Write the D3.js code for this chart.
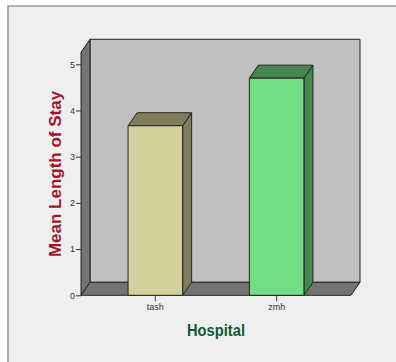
<!DOCTYPE html>
<html>
<head>
<meta charset="utf-8">
<script src="https://cdn.jsdelivr.net/npm/d3@7"></script>
<style>
html,body{margin:0;padding:0;background:#fff;}
svg{display:block;}
text{font-family:"Liberation Sans",Arial,sans-serif;}
</style>
</head>
<body>
<svg id="chart" width="396" height="362"></svg>
<script>
const categories = ["tash", "zmh"];
const meanStay = [3.67, 4.70];
const yTicks = [0, 1, 2, 3, 4, 5];
const frontColors = ["#d5d09b", "#72dd84"];
const sideColors = ["#7f7d5c", "#46874f"];
const yTitle = "Mean Length of Stay";
const xTitle = "Hospital";

const W = 396, H = 362;
const left = 81, right = 351, base = 295.3, top5 = 64.3;
const depthX = 9, depthY = -13;
const wallTop = 39.3;

const svg = d3.select("#chart");
const x = d3.scaleBand().domain(categories).range([left, right]).paddingInner(0.55).paddingOuter(0.388);
const y = d3.scaleLinear().domain([0, 5]).range([base, top5]);
const wallTopValue = y.invert(wallTop - depthY);
const line = d3.line();
const ink = "#222";

// Chart area: pale panel with a grey rule along its top and left edges
svg.append("rect").attr("width", W).attr("height", H).attr("fill", "#fff");
svg.append("rect").attr("x", 8).attr("y", 6).attr("width", W - 8).attr("height", H - 6).attr("fill", "#efefef");
svg.append("path").attr("d", line([[8, H], [8, 6], [W, 6]])).attr("fill", "none")
  .attr("stroke", "#9a9a9a").attr("stroke-width", 1.6);

// Three-dimensional box: back wall, side wall, floor
const poly = (pts, fill, stroke = ink, sw = 1) => svg.append("path")
  .attr("d", line(pts) + "Z").attr("fill", fill).attr("stroke", stroke)
  .attr("stroke-width", sw).attr("stroke-linejoin", "round");

const yTop = y(wallTopValue);
poly([[left + depthX, yTop + depthY], [right + depthX, yTop + depthY],
      [right + depthX, base + depthY], [left + depthX, base + depthY]], "#c0c0c0");
poly([[left, yTop], [left + depthX, yTop + depthY], [left + depthX, base + depthY], [left, base]], "#737373");
poly([[left, base], [left + depthX, base + depthY], [right + depthX, base + depthY], [right, base]], "#737373");

// Value axis ticks and labels
const yAxis = svg.append("g").attr("transform", `translate(${left},0)`)
  .call(d3.axisLeft(y).tickValues(yTicks).tickSize(5).tickPadding(1).tickFormat(d3.format("d")));
yAxis.select(".domain").remove();
yAxis.selectAll("line").attr("stroke", "#333");
yAxis.selectAll("text").attr("font-size", 9).attr("fill", "#333");

// Category ticks and labels
const xAxis = svg.append("g").attr("transform", `translate(0,${base})`)
  .call(d3.axisBottom(x).tickSize(6).tickPadding(2));
xAxis.select(".domain").remove();
xAxis.selectAll("line").attr("stroke", "#444");
xAxis.selectAll("text").attr("font-size", 9).attr("fill", "#333");

// Bars drawn as extruded boxes
categories.forEach((c, i) => {
  const x0 = x(c), x1 = x0 + x.bandwidth(), yv = y(meanStay[i]);
  poly([[x1, base], [x1 + depthX, base + depthY], [x1 + depthX, yv + depthY], [x1, yv]], sideColors[i]);
  poly([[x0, yv], [x0 + depthX, yv + depthY], [x1 + depthX, yv + depthY], [x1, yv]], sideColors[i]);
  poly([[x0, yv], [x1, yv], [x1, base], [x0, base]], frontColors[i]);
});

// Axis titles
svg.append("text").attr("transform", "translate(61,174) rotate(-90)")
  .attr("text-anchor", "middle").attr("font-size", 17).attr("font-weight", "bold")
  .attr("fill", "#a3152c").text(yTitle);
svg.append("text").attr("x", 216).attr("y", 336)
  .attr("text-anchor", "middle").attr("font-size", 16.5).attr("font-weight", "bold")
  .attr("textLength", 58).attr("lengthAdjust", "spacingAndGlyphs")
  .attr("fill", "#0f5a35").text(xTitle);
</script>
</body>
</html>
